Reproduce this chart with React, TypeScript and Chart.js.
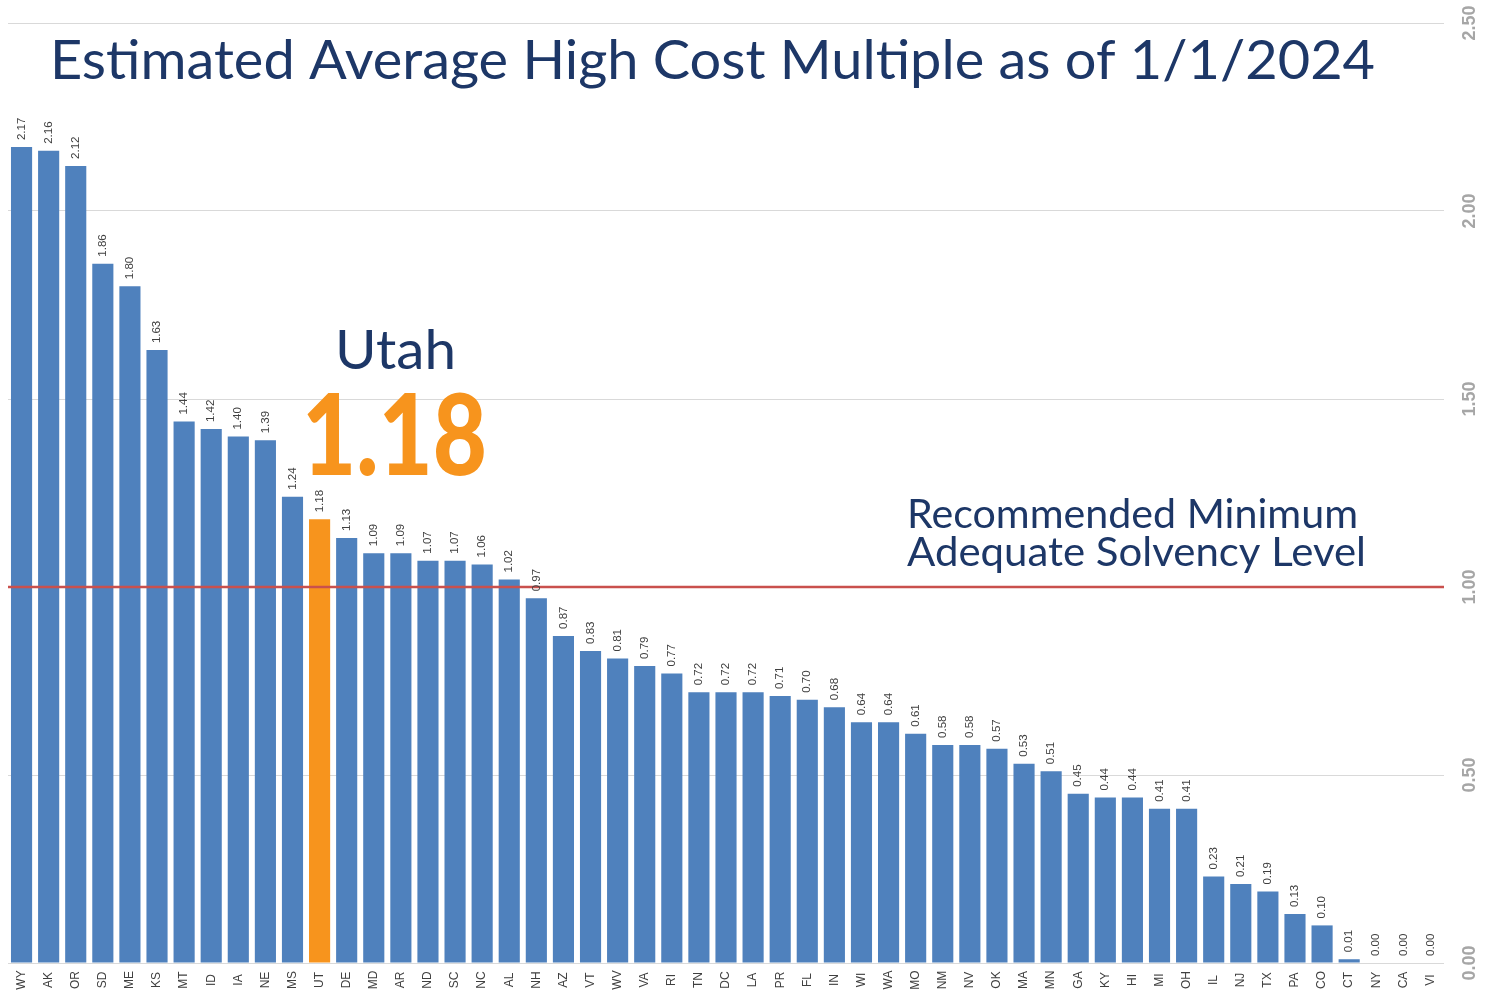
import React, { useEffect, useRef } from "react";
import { Chart, registerables } from "chart.js";

Chart.register(...registerables);

const states: string[] = [
  "WY", "AK", "OR", "SD", "ME", "KS", "MT", "ID", "IA", "NE", "MS", "UT", "DE", "MD", "AR", "ND", "SC", "NC", "AL", "NH",
  "AZ", "VT", "WV", "VA", "RI", "TN", "DC", "LA", "PR", "FL", "IN", "WI", "WA", "MO", "NM", "NV", "OK", "MA", "MN", "GA",
  "KY", "HI", "MI", "OH", "IL", "NJ", "TX", "PA", "CO", "CT", "NY", "CA", "VI",
];

const multiples: number[] = [
  2.17, 2.16, 2.12, 1.86, 1.8, 1.63, 1.44, 1.42, 1.4, 1.39, 1.24, 1.18, 1.13, 1.09, 1.09, 1.07, 1.07, 1.06, 1.02, 0.97,
  0.87, 0.83, 0.81, 0.79, 0.77, 0.72, 0.72, 0.72, 0.71, 0.7, 0.68, 0.64, 0.64, 0.61, 0.58, 0.58, 0.57, 0.53, 0.51, 0.45,
  0.44, 0.44, 0.41, 0.41, 0.23, 0.21, 0.19, 0.13, 0.1, 0.01, 0.0, 0.0, 0.0,
];

const yTicks: number[] = [0, 0.5, 1.0, 1.5, 2.0, 2.5];
const highlightState = "UT";
const minimumLevel = 1.0;

const titleText = "Estimated Average High Cost Multiple as of 1/1/2024";
const highlightName = "Utah";
const highlightValueText = "1.18";
const minimumLines: string[] = ["Recommended Minimum", "Adequate Solvency Level"];

const BLUE = "#4f81bd";
const ORANGE = "#f7941d";
const NAVY = "#1d3767";
const RED = "#c9504d";

function drawBox(
  ctx: CanvasRenderingContext2D,
  text: string,
  family: string,
  weight: string,
  size: number,
  targetWidth: number,
  x: number,
  baseline: number,
  color: string
) {
  ctx.save();
  ctx.font = `${weight} ${size}px ${family}`;
  const w = ctx.measureText(text).width;
  ctx.fillStyle = color;
  ctx.textAlign = "left";
  ctx.textBaseline = "alphabetic";
  ctx.translate(x, baseline);
  ctx.scale(targetWidth / w, 1);
  ctx.fillText(text, 0, 0);
  ctx.restore();
}

const overlayPlugin = {
  id: "overlay",
  afterDatasetsDraw(chart: any) {
    const ctx: CanvasRenderingContext2D = chart.ctx;
    const xScale = chart.scales.x;
    const yScale = chart.scales.y;
    const area = chart.chartArea;
    ctx.save();

    // minimum level line
    const yMin = yScale.getPixelForValue(minimumLevel);
    ctx.strokeStyle = RED;
    ctx.lineWidth = 2.5;
    ctx.beginPath();
    ctx.moveTo(area.left, yMin);
    ctx.lineTo(area.right, yMin);
    ctx.stroke();

    // data labels
    const meta = chart.getDatasetMeta(0);
    ctx.fillStyle = "#404040";
    ctx.font = `11.5px "Liberation Sans", Arial, sans-serif`;
    ctx.textAlign = "left";
    ctx.textBaseline = "middle";
    meta.data.forEach((bar: any, i: number) => {
      ctx.save();
      ctx.translate(bar.x, bar.y - 7);
      ctx.rotate(-Math.PI / 2);
      ctx.fillText(multiples[i].toFixed(2), 0, 0);
      ctx.restore();
    });

    // category labels
    ctx.font = `12px "Liberation Sans", Arial, sans-serif`;
    ctx.textAlign = "center";
    ctx.fillStyle = "#404040";
    states.forEach((s, i) => {
      ctx.save();
      ctx.translate(xScale.getPixelForValue(i), 980);
      ctx.rotate(-Math.PI / 2);
      ctx.fillText(s, 0, 0);
      ctx.restore();
    });

    // y tick labels (rotated, right side)
    ctx.font = `bold 18px "Liberation Sans", Arial, sans-serif`;
    ctx.fillStyle = "#a6a6a6";
    ctx.textAlign = "center";
    yTicks.forEach((v) => {
      ctx.save();
      ctx.translate(1470, yScale.getPixelForValue(v));
      ctx.rotate(-Math.PI / 2);
      ctx.fillText(v.toFixed(2), 0, 0);
      ctx.restore();
    });

    // annotations
    drawBox(ctx, titleText, "Lato, sans-serif", "normal", 55, 1325, 50, 79, NAVY);
    drawBox(ctx, highlightName, "Lato, sans-serif", "normal", 55, 121, 335, 369, NAVY);
    drawBox(ctx, highlightValueText, "Lato, sans-serif", "900", 112, 185, 302, 475, ORANGE);
    drawBox(ctx, minimumLines[0], "Lato, sans-serif", "normal", 40, 451, 907, 528, NAVY);
    drawBox(ctx, minimumLines[1], "Lato, sans-serif", "normal", 40, 459, 907, 566, NAVY);

    ctx.restore();
  },
};

export default function App() {
  const canvasRef = useRef<HTMLCanvasElement | null>(null);

  useEffect(() => {
    document.body.style.margin = "0";
    const canvas = canvasRef.current;
    if (!canvas) return;
    const chart = new Chart(canvas, {
      type: "bar",
      data: {
        labels: states,
        datasets: [
          {
            data: multiples,
            backgroundColor: states.map((s) => (s === highlightState ? ORANGE : BLUE)),
            borderWidth: 0,
            barPercentage: 0.78,
            categoryPercentage: 1.0,
          },
        ],
      },
      options: {
        animation: false,
        responsive: true,
        maintainAspectRatio: false,
        layout: { padding: { left: 8, right: 42, top: 23, bottom: 0 } },
        plugins: {
          legend: { display: false },
          tooltip: { enabled: false },
          title: { display: false },
        },
        scales: {
          x: {
            ticks: { display: false },
            grid: { display: false, drawTicks: false },
            border: { display: false },
            afterFit: (scale: any) => {
              scale.height = 32;
            },
          },
          y: {
            position: "right",
            min: 0,
            max: 2.5,
            ticks: { display: false, stepSize: 0.5 },
            grid: { color: "#d9d9d9", lineWidth: 1, drawTicks: false },
            border: { display: false },
            afterFit: (scale: any) => {
              scale.width = 0;
            },
          },
        },
      },
      plugins: [overlayPlugin],
    });
    return () => chart.destroy();
  }, []);

  return (
    <div style={{ position: "absolute", left: 0, top: 0, width: 1486, height: 995, background: "#ffffff" }}>
      <canvas ref={canvasRef} />
    </div>
  );
}
